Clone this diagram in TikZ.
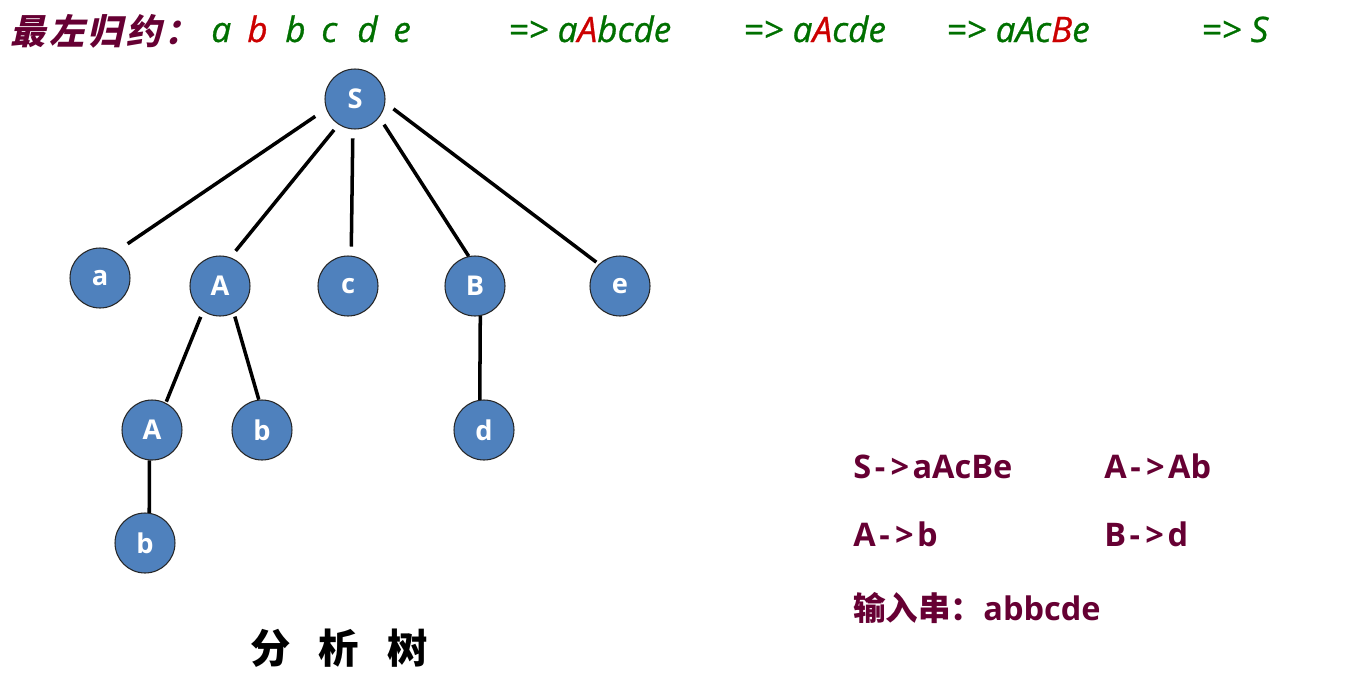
\documentclass[tikz,border=0pt]{standalone}
\usepackage{fontspec}
\setmainfont{Open Sans}
\newfontfamily\cjk{Noto Sans CJK SC}
\newfontfamily\cjkit[FakeSlant=0.22,LetterSpace=10]{Noto Sans CJK SC}
\newcommand\yld{\kern2pt-\kern3pt>\kern2pt}
\definecolor{grx}{RGB}{0,112,0}
\definecolor{rdx}{RGB}{204,0,0}
\definecolor{pux}{RGB}{102,0,51}
\definecolor{blx}{RGB}{79,129,189}
\tikzset{
    tnode/.style={circle,draw=black!85,line width=0.6pt,fill=blx,minimum size=1.2cm,inner sep=0pt,text=white,font=\bfseries\fontsize{15.5}{18}\selectfont},
    edge/.style={line width=2pt},
    der/.style={anchor=base west,inner sep=0pt,font=\itshape\addfontfeature{FakeBold=0.8}\fontsize{20}{24}\selectfont,text=grx},
    prod/.style={anchor=base west,inner sep=0pt,font=\bfseries\fontsize{18.5}{22}\selectfont,text=pux}
}
\begin{document}
\begin{tikzpicture}[x=0.02cm,y=-0.02cm]
\useasboundingbox (0,0) rectangle (1346,683);
\node [der,text=pux,font=\cjkit\bfseries\fontsize{20}{24}\selectfont] (ttl) at (10,44) {最左归约：};
\foreach \x/\t/\c [count=\i] in {211/a/grx,247/b/rdx,285/b/grx,321/c/grx,357/d/grx,393/e/grx} {
    \node [der,text=\c] (w\i) at (\x,42) {\t};
}
\node [der] (r1) at (508,42) {=> a\textcolor{rdx}{A}bcde};
\node [der] (r2) at (743,42) {=> a\textcolor{rdx}{A}cde};
\node [der] (r3) at (946,42) {=> aAc\textcolor{rdx}{B}e};
\node [der] (r4) at (1201,42) {=> S};
\node [tnode] (S) at (355,99) {S};
\node [tnode] (a) at (100,278) {a};
\node [tnode] (A) at (220,286) {A};
\node [tnode] (c) at (348,286) {c};
\node [tnode] (B) at (475,286) {B};
\node [tnode] (e) at (620,286) {e};
\node [tnode] (A2) at (152,430) {A};
\node [tnode] (b1) at (262,430) {b};
\node [tnode] (d) at (484,430) {d};
\node [tnode] (b2) at (145,543) {b};
\foreach \p/\q/\s/\t in {S.199/a.59/7.5/8.2, S.237/A.70/3.9/4.7, S.266/c.84/5.1/5.2,
        S.323/B.102/4.9/0, S.353/e.134/5.8/1.8, A.236/A2.63/3.4/0.7,
        A.297/b1.96/2/0, A2.265/b2.82/0/0, B.280/d.98/0/0} {
    \draw [edge,shorten <=\s pt,shorten >=\t pt] (\p) -- (\q);
}
\node [inner sep=0pt,font=\cjk\bfseries\fontsize{23}{28}\selectfont] (cap) at (339,648) {分\hspace{0.7em}析\hspace{0.7em}树};
\node [prod] (p1) at (853,478) {S\yld aAcBe};
\node [prod] (p2) at (1104,478) {A\yld Ab};
\node [prod] (p3) at (853,546) {A\yld b};
\node [prod] (p4) at (1104,546) {B\yld d};
\node [prod] (inp) at (853,620) {{\cjk 输入串：}abbcde};
\end{tikzpicture}
\end{document}
